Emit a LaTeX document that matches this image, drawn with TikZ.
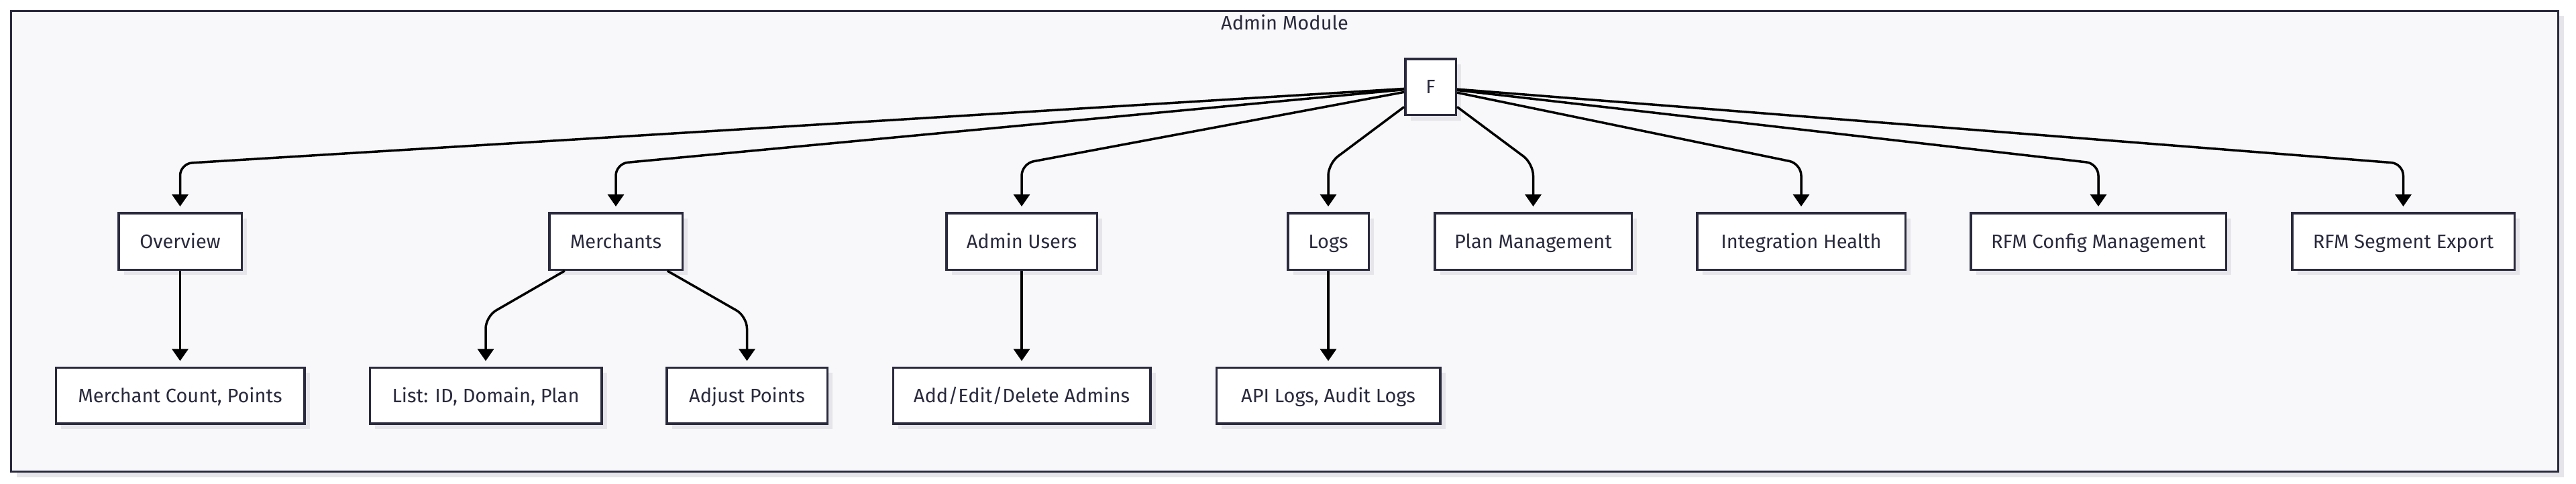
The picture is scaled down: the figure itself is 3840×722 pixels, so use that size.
\documentclass[tikz,border=0pt]{standalone}
\usepackage{fontspec}
\setmainfont{Fira Sans}
\usetikzlibrary{arrows.meta,shadows}
\definecolor{framebg}{RGB}{248,248,250}
\definecolor{ink}{RGB}{42,42,62}
\definecolor{shade}{RGB}{229,229,234}
\begin{document}
\begin{tikzpicture}[x=0.5pt,y=-0.5pt,
  txt/.style={text=ink, font=\fontsize{14.5}{17}\selectfont, text height=10pt, text depth=0pt},
  box/.style={txt, draw=ink, fill=white, line width=1.75pt, inner sep=0pt,
    minimum height=42.25pt,
    drop shadow={shadow xshift=4pt, shadow yshift=-4pt, fill=shade, opacity=1}},
  lowbox/.style={box, minimum height=41.75pt},
  frame/.style={draw=ink, fill=framebg, line width=1.5pt, inner sep=0pt,
    drop shadow={shadow xshift=4pt, shadow yshift=-4pt, fill=shade, opacity=1}},
  edge/.style={draw=black, line width=1.75pt, rounded corners=9pt,
    -{Triangle[length=9pt,width=12pt]}, shorten >=4pt}]
\useasboundingbox (0,0) rectangle (3840,722);
\fill[white] (0,0) rectangle (3840,722);
\node[frame, minimum width=1898.5pt, minimum height=343.5pt] (mod) at (1915,360) {};
\node[txt] (title) at (1915,35) {Admin Module};
\node[box, minimum width=37.75pt, minimum height=41.75pt] (F) at (2132.5,130) {F};
% row 1
\node[box, minimum width=91.75pt]  (ov) at (268.5,360) {Overview};
\node[box, minimum width=99.25pt]  (me) at (918,360) {Merchants};
\node[box, minimum width=112.25pt] (au) at (1523,360) {Admin Users};
\node[box, minimum width=60.25pt]  (lg) at (1980,360) {Logs};
\node[box, minimum width=146.75pt] (pm) at (2285.5,360) {Plan Management};
\node[box, minimum width=155.25pt] (ih) at (2685,360) {Integration Health};
\node[box, minimum width=190.25pt] (rc) at (3128,360) {RFM Config Management};
\node[box, minimum width=165.75pt] (rs) at (3582.5,360) {RFM Segment Export};
% row 2
\node[lowbox, minimum width=185.25pt] (mc) at (268.5,590) {Merchant Count, Points};
\node[lowbox, minimum width=172.75pt] (li) at (724,590) {List: ID, Domain, Plan};
\node[lowbox, minimum width=119.75pt] (ap) at (1113.5,590) {Adjust Points};
\node[lowbox, minimum width=191.75pt] (ad) at (1523,590) {Add/Edit/Delete Admins};
\node[lowbox, minimum width=166.75pt] (al) at (1980,590) {API Logs, Audit Logs};
% bend levels
\coordinate (b1) at (0,244);
\coordinate (b2) at (0,472);
% edges
\draw[edge] (F) -- (ov.north |- b1) -- (ov.north);
\draw[edge] (F) -- (me.north |- b1) -- (me.north);
\draw[edge] (F) -- (au.north |- b1) -- (au.north);
\draw[edge] (F) -- (lg.north |- b1) -- (lg.north);
\draw[edge] (F) -- (pm.north |- b1) -- (pm.north);
\draw[edge] (F) -- (ih.north |- b1) -- (ih.north);
\draw[edge] (F) -- (rc.north |- b1) -- (rc.north);
\draw[edge] (F) -- (rs.north |- b1) -- (rs.north);
\draw[edge] (ov.south) -- (mc.north);
\draw[edge] (me) -- (li.north |- b2) -- (li.north);
\draw[edge] (me) -- (ap.north |- b2) -- (ap.north);
\draw[edge] (au.south) -- (ad.north);
\draw[edge] (lg.south) -- (al.north);
\end{tikzpicture}
\end{document}
